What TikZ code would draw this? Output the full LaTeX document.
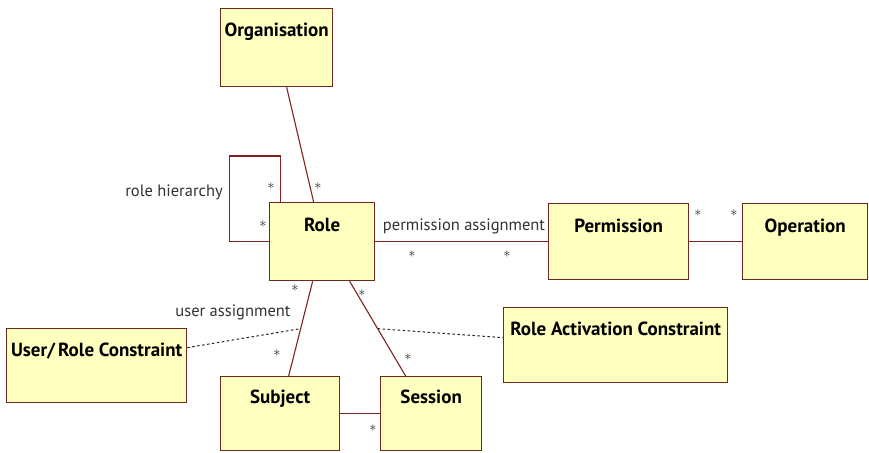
\documentclass[tikz,border=0pt]{standalone}
\usepackage{fontspec}
\setsansfont{PT Sans}
\usetikzlibrary{calc}
\definecolor{clsfill}{RGB}{255,255,192}
\definecolor{clsline}{RGB}{110,40,30}
\definecolor{assoc}{RGB}{125,35,35}
\begin{document}
\begin{tikzpicture}[x=1pt,y=-1pt,
  cls/.style={draw=clsline, fill=clsfill, line width=1.3pt, anchor=north west, inner sep=0pt},
  title/.style={anchor=base, font=\sffamily\bfseries\fontsize{19}{22}\selectfont, text=black},
  rolelbl/.style={font=\sffamily\fontsize{16.5}{19}\selectfont, text=black!80, inner sep=0pt},
  mult/.style={font=\fontsize{14}{16}\selectfont, text=black!85, inner sep=0pt},
  link/.style={draw=assoc, line width=1.1pt},
  constraint/.style={draw=black!85, line width=1pt, dash pattern=on 2.5pt off 2.5pt}
]
\useasboundingbox (0,0) rectangle (869,452);
\fill[white] (0,0) rectangle (869,452);

% classes
\node[cls, minimum width=112, minimum height=78] (org) at (220,8) {};
\node[cls, minimum width=105, minimum height=78] (role) at (269,202) {};
\node[cls, minimum width=140, minimum height=76] (perm) at (548,203) {};
\node[cls, minimum width=125, minimum height=76] (oper) at (742,203) {};
\node[cls, minimum width=180, minimum height=74] (urc) at (6,328) {};
\node[cls, minimum width=224, minimum height=75] (rac) at (503,307) {};
\node[cls, minimum width=119, minimum height=74] (subj) at (220,376) {};
\node[cls, minimum width=101, minimum height=74] (sess) at (380,376) {};

% class names
\node[title] (orgT) at ([yshift=-28.5pt]org.north) {Organisation};
\node[title] (roleT) at ([yshift=-29.5pt]role.north) {Role};
\node[title] (permT) at ([yshift=-29pt]perm.north) {Permission};
\node[title] (operT) at ([yshift=-29pt]oper.north) {Operation};
\node[title] (urcT) at ([yshift=-28pt]urc.north) {User/\,Role Constraint};
\node[title] (racT) at ([yshift=-28pt]rac.north) {Role Activation Constraint};
\node[title] (subjT) at ([yshift=-27pt]subj.north) {Subject};
\node[title] (sessT) at ([yshift=-27pt]sess.north) {Session};

% associations
\draw[link] ([xshift=10pt]org.south) -- ([xshift=-8.5pt]role.north);
\draw[link] ([xshift=-41.5pt]role.north) -- ++(0,-46) -- ++(-51,0) |- (role.west);
\draw[link] (role) -- (perm);
\draw[link] (perm) -- (oper);
\draw[link] ([xshift=-9.5pt]role.south) -- coordinate[pos=0.5] (uamid) ([xshift=8.5pt]subj.north);
\draw[link] ([xshift=27.5pt]role.south) -- coordinate[pos=0.5] (rsmid) ([xshift=-25.5pt]sess.north);
\draw[link] (subj) -- (sess);

% constraints
\draw[constraint] ([yshift=18pt]urc.east) -- (uamid);
\draw[constraint] (rsmid) -- ([yshift=7.5pt]rac.west);

% association names
\node[rolelbl, anchor=east] (rh) at (223,192) {role hierarchy};
\node[rolelbl] (pa) at (464,226) {permission assignment};
\node[rolelbl] (ua) at (233,312) {user assignment};

% multiplicities
\node[mult] (m1) at (271,186) {$\ast$};
\node[mult] (m2) at (318,186) {$\ast$};
\node[mult] (m3) at (263,224) {$\ast$};
\node[mult] (m4) at (412,254) {$\ast$};
\node[mult] (m5) at (507,254) {$\ast$};
\node[mult] (m6) at (698,213) {$\ast$};
\node[mult] (m7) at (734,213) {$\ast$};
\node[mult] (m8) at (295,288) {$\ast$};
\node[mult] (m9) at (277,353) {$\ast$};
\node[mult] (m10) at (362,293) {$\ast$};
\node[mult] (m11) at (408,357) {$\ast$};
\node[mult] (m12) at (373,428) {$\ast$};
\end{tikzpicture}
\end{document}
